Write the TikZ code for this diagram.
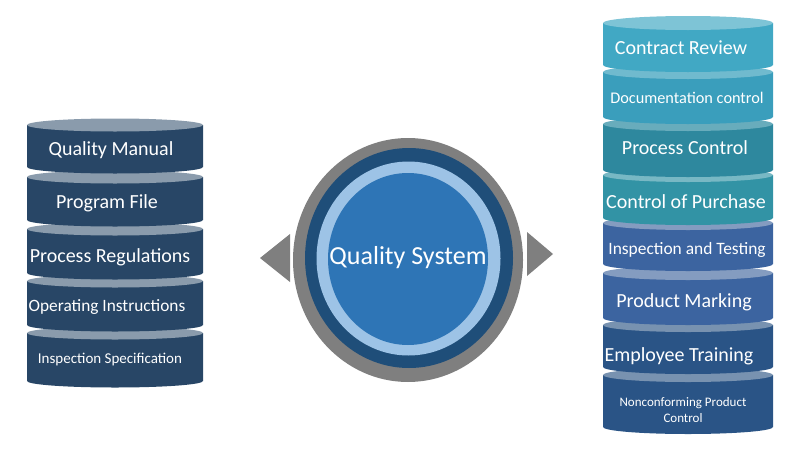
\documentclass[tikz,border=0pt]{standalone}
\usepackage{fontspec}
\setmainfont{Carlito}

% colours of the two stacks and the hub
\definecolor{navybody}{RGB}{40,70,102}
\definecolor{navylid}{RGB}{138,155,172}
\definecolor{tealA}{RGB}{65,168,196}
\definecolor{tealAlid}{RGB}{126,196,214}
\definecolor{tealB}{RGB}{58,158,188}
\definecolor{tealBlid}{RGB}{112,186,206}
\definecolor{tealC}{RGB}{46,136,158}
\definecolor{tealClid}{RGB}{104,172,188}
\definecolor{tealD}{RGB}{50,147,165}
\definecolor{tealDlid}{RGB}{120,184,196}
\definecolor{blueE}{RGB}{60,100,160}
\definecolor{blueElid}{RGB}{132,156,192}
\definecolor{blueF}{RGB}{42,84,134}
\definecolor{blueFlid}{RGB}{120,146,176}
\definecolor{hubgrey}{RGB}{127,127,127}
\definecolor{hubnavy}{RGB}{31,78,121}
\definecolor{hublight}{RGB}{157,195,230}
\definecolor{hubblue}{RGB}{46,117,182}

% one drum: centre x, x radius, y radius, top, bottom edge, body colour, lid colour
\newcommand{\drumdisc}[7]{%
  \fill[#6] (#1-#2,#4) -- (#1-#2,#5)
    arc[start angle=180, end angle=360, x radius=#2pt, y radius=#3pt]
    -- (#1+#2,#4) -- cycle;
  \fill[#7] (#1,#4) ellipse[x radius=#2pt, y radius=#3pt];
}

\tikzset{
  disclabel/.style={text=white, inner sep=0pt, font=\fontsize{20}{22}\selectfont},
  hubarrow/.style={fill=hubgrey}
}

\begin{document}
\begin{tikzpicture}[x=1pt, y=-1pt]
  \useasboundingbox (0,0) rectangle (800,450);

  % Left stack (drawn from the bottom up)
  \drumdisc{115}{88}{6.5}{333}{381}{navybody}{navylid}
  \drumdisc{115}{88}{6.5}{281}{325}{navybody}{navylid}
  \drumdisc{115}{88}{6.5}{229}{273}{navybody}{navylid}
  \drumdisc{115}{88}{6.5}{177}{220}{navybody}{navylid}
  \drumdisc{115}{88}{6.5}{125}{167}{navybody}{navylid}

  % Right stack (drawn from the bottom up)
  \drumdisc{688}{85}{7}{375}{427}{blueF}{blueFlid}
  \drumdisc{688}{85}{7}{325}{367}{blueF}{blueFlid}
  \drumdisc{688}{85}{7}{273}{318}{blueE}{blueElid}
  \drumdisc{688}{85}{7}{223}{264}{blueE}{blueElid}
  \drumdisc{688}{85}{7}{175}{218}{tealD}{tealDlid}
  \drumdisc{688}{85}{7}{124}{170}{tealC}{tealClid}
  \drumdisc{688}{85}{7}{72}{117}{tealB}{tealBlid}
  \drumdisc{688}{85}{7}{23}{65}{tealA}{tealAlid}

  % Hub rings
  \fill[hubgrey] (408,260) ellipse[x radius=115pt, y radius=122pt];
  \fill[hubnavy] (409,258) ellipse[x radius=104pt, y radius=110pt];
  \fill[hublight] (408.5,258.5) ellipse[x radius=92pt, y radius=97pt];
  \fill[hubblue] (408,259) ellipse[x radius=80pt, y radius=86pt];

  % Side arrows
  \fill[hubarrow] (260,258) -- (290,234) -- (290,282) -- cycle;
  \fill[hubarrow] (553,254) -- (527,232) -- (527,276) -- cycle;

  % Label the hub
  \node[disclabel, font=\fontsize{26}{28}\selectfont] (hub) at (408,258) {Quality System};

  % Label the left stack
  \node[disclabel] (manual) at (111,150) {Quality Manual};
  \node[disclabel] (progfile) at (107,203) {Program File};
  \node[disclabel] (procreg) at (110,257) {Process Regulations};
  \node[disclabel, font=\fontsize{17.3}{19}\selectfont] (opinstr) at (107,307) {Operating Instructions};
  \node[disclabel, font=\fontsize{15}{17}\selectfont] (inspspec) at (110,360) {Inspection Specification};

  % Label the right stack
  \node[disclabel] (contract) at (681,48) {Contract Review};
  \node[disclabel, font=\fontsize{16.3}{18}\selectfont] (doccontrol) at (687,98) {Documentation control};
  \node[disclabel] (proccontrol) at (685,148) {Process Control};
  \node[disclabel] (purchase) at (686,202) {Control of Purchase};
  \node[disclabel, font=\fontsize{17.4}{19}\selectfont] (testing) at (687,250) {Inspection and Testing};
  \node[disclabel] (marking) at (684,302) {Product Marking};
  \node[disclabel] (training) at (679,356) {Employee Training};
  \node[disclabel, font=\fontsize{13}{16}\selectfont, align=center] (nonconf) at (683,410) {Nonconforming Product\\Control};
\end{tikzpicture}
\end{document}
